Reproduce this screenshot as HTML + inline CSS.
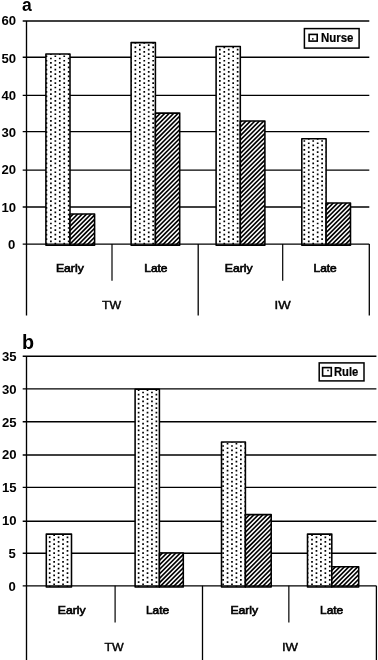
<!DOCTYPE html>
<html lang="en">
<head>
<meta charset="utf-8">
<title>Figure</title>
<style>
html,body{margin:0;padding:0;background:#fff;}
body{width:378px;height:660px;overflow:hidden;font-family:"Liberation Sans", sans-serif;}
svg{display:block;font-family:"Liberation Sans", sans-serif;}
text{fill:#000;}
</style>
</head>
<body>
<svg width="378" height="660" viewBox="0 0 378 660">
<rect width="378" height="660" fill="#fff"/>
<line x1="22.7" y1="21.0" x2="369.3" y2="21.0" stroke="#000" stroke-width="1.35"/>
<line x1="22.7" y1="57.2" x2="369.3" y2="57.2" stroke="#000" stroke-width="1.35"/>
<line x1="22.7" y1="95.3" x2="369.3" y2="95.3" stroke="#000" stroke-width="1.35"/>
<line x1="22.7" y1="131.6" x2="369.3" y2="131.6" stroke="#000" stroke-width="1.35"/>
<line x1="22.7" y1="170.1" x2="369.3" y2="170.1" stroke="#000" stroke-width="1.35"/>
<line x1="22.7" y1="207.0" x2="369.3" y2="207.0" stroke="#000" stroke-width="1.35"/>
<text x="16.0" y="25.45" text-anchor="end" font-weight="bold" font-size="12" textLength="14.6" lengthAdjust="spacingAndGlyphs">60</text>
<text x="16.0" y="62.70" text-anchor="end" font-weight="bold" font-size="12" textLength="14.6" lengthAdjust="spacingAndGlyphs">50</text>
<text x="16.0" y="99.95" text-anchor="end" font-weight="bold" font-size="12" textLength="14.6" lengthAdjust="spacingAndGlyphs">40</text>
<text x="16.0" y="137.20" text-anchor="end" font-weight="bold" font-size="12" textLength="14.6" lengthAdjust="spacingAndGlyphs">30</text>
<text x="16.0" y="174.45" text-anchor="end" font-weight="bold" font-size="12" textLength="14.6" lengthAdjust="spacingAndGlyphs">20</text>
<text x="16.0" y="211.70" text-anchor="end" font-weight="bold" font-size="12" textLength="14.6" lengthAdjust="spacingAndGlyphs">10</text>
<text x="15.4" y="248.95" text-anchor="end" font-weight="bold" font-size="12" textLength="7.3" lengthAdjust="spacingAndGlyphs">0</text>
<clipPath id="c1"><rect x="45.90" y="53.90" width="24.10" height="191.35"/></clipPath>
<rect x="45.90" y="53.90" width="24.10" height="191.35" fill="#fff"/>
<g clip-path="url(#c1)" stroke="#000" stroke-width="1.7" stroke-dasharray="1.7 2.76"><path d="M46.45,46.50V246.25"/><path d="M50.90,48.73V246.25"/><path d="M55.34,46.50V246.25"/><path d="M59.79,48.73V246.25"/><path d="M64.23,46.50V246.25"/><path d="M68.68,48.73V246.25"/></g>
<rect x="45.90" y="53.90" width="24.10" height="191.35" fill="none" stroke="#000" stroke-width="1.55" stroke-linejoin="round"/>
<clipPath id="c2"><rect x="70.00" y="213.90" width="24.60" height="31.35"/></clipPath>
<rect x="70.00" y="213.90" width="24.60" height="31.35" fill="#fff"/>
<path clip-path="url(#c2)" d="M69.00,209.43L95.60,182.74M69.00,213.89L95.60,187.20M69.00,218.35L95.60,191.66M69.00,222.81L95.60,196.12M69.00,227.27L95.60,200.58M69.00,231.73L95.60,205.04M69.00,236.19L95.60,209.50M69.00,240.65L95.60,213.96M69.00,245.11L95.60,218.42M69.00,249.57L95.60,222.88M69.00,254.03L95.60,227.34M69.00,258.49L95.60,231.80M69.00,262.95L95.60,236.26M69.00,267.41L95.60,240.72M69.00,271.87L95.60,245.18M69.00,276.33L95.60,249.64" stroke="#000" stroke-width="1.62" fill="none"/>
<rect x="70.00" y="213.90" width="24.60" height="31.35" fill="none" stroke="#000" stroke-width="1.55" stroke-linejoin="round"/>
<clipPath id="c3"><rect x="131.10" y="42.60" width="24.30" height="202.65"/></clipPath>
<rect x="131.10" y="42.60" width="24.30" height="202.65" fill="#fff"/>
<g clip-path="url(#c3)" stroke="#000" stroke-width="1.7" stroke-dasharray="1.7 2.76"><path d="M130.92,35.35V246.25"/><path d="M135.37,37.58V246.25"/><path d="M139.82,35.35V246.25"/><path d="M144.26,37.58V246.25"/><path d="M148.71,35.35V246.25"/><path d="M153.15,37.58V246.25"/></g>
<rect x="131.10" y="42.60" width="24.30" height="202.65" fill="none" stroke="#000" stroke-width="1.55" stroke-linejoin="round"/>
<clipPath id="c4"><rect x="155.40" y="113.10" width="24.30" height="132.15"/></clipPath>
<rect x="155.40" y="113.10" width="24.30" height="132.15" fill="#fff"/>
<path clip-path="url(#c4)" d="M154.40,105.92L180.70,79.53M154.40,110.38L180.70,83.99M154.40,114.84L180.70,88.45M154.40,119.30L180.70,92.91M154.40,123.76L180.70,97.37M154.40,128.22L180.70,101.83M154.40,132.68L180.70,106.29M154.40,137.14L180.70,110.75M154.40,141.60L180.70,115.21M154.40,146.06L180.70,119.67M154.40,150.52L180.70,124.13M154.40,154.98L180.70,128.59M154.40,159.44L180.70,133.05M154.40,163.90L180.70,137.51M154.40,168.36L180.70,141.97M154.40,172.82L180.70,146.43M154.40,177.28L180.70,150.89M154.40,181.74L180.70,155.35M154.40,186.20L180.70,159.81M154.40,190.66L180.70,164.27M154.40,195.12L180.70,168.73M154.40,199.58L180.70,173.19M154.40,204.04L180.70,177.65M154.40,208.50L180.70,182.11M154.40,212.96L180.70,186.57M154.40,217.42L180.70,191.03M154.40,221.88L180.70,195.49M154.40,226.34L180.70,199.95M154.40,230.80L180.70,204.41M154.40,235.26L180.70,208.87M154.40,239.72L180.70,213.33M154.40,244.18L180.70,217.79M154.40,248.64L180.70,222.25M154.40,253.10L180.70,226.71M154.40,257.56L180.70,231.17M154.40,262.02L180.70,235.63M154.40,266.48L180.70,240.09M154.40,270.94L180.70,244.55M154.40,275.40L180.70,249.01" stroke="#000" stroke-width="1.62" fill="none"/>
<rect x="155.40" y="113.10" width="24.30" height="132.15" fill="none" stroke="#000" stroke-width="1.55" stroke-linejoin="round"/>
<clipPath id="c5"><rect x="216.10" y="46.50" width="24.20" height="198.75"/></clipPath>
<rect x="216.10" y="46.50" width="24.20" height="198.75" fill="#fff"/>
<g clip-path="url(#c5)" stroke="#000" stroke-width="1.7" stroke-dasharray="1.7 2.76"><path d="M215.40,42.04V246.25"/><path d="M219.84,39.81V246.25"/><path d="M224.29,42.04V246.25"/><path d="M228.74,39.81V246.25"/><path d="M233.18,42.04V246.25"/><path d="M237.63,39.81V246.25"/></g>
<rect x="216.10" y="46.50" width="24.20" height="198.75" fill="none" stroke="#000" stroke-width="1.55" stroke-linejoin="round"/>
<clipPath id="c6"><rect x="240.30" y="120.90" width="24.60" height="124.35"/></clipPath>
<rect x="240.30" y="120.90" width="24.60" height="124.35" fill="#fff"/>
<path clip-path="url(#c6)" d="M239.30,114.41L265.90,87.73M239.30,118.87L265.90,92.19M239.30,123.33L265.90,96.65M239.30,127.79L265.90,101.11M239.30,132.25L265.90,105.57M239.30,136.71L265.90,110.03M239.30,141.17L265.90,114.49M239.30,145.63L265.90,118.95M239.30,150.09L265.90,123.41M239.30,154.55L265.90,127.87M239.30,159.01L265.90,132.33M239.30,163.47L265.90,136.79M239.30,167.93L265.90,141.25M239.30,172.39L265.90,145.71M239.30,176.85L265.90,150.17M239.30,181.31L265.90,154.63M239.30,185.77L265.90,159.09M239.30,190.23L265.90,163.55M239.30,194.69L265.90,168.01M239.30,199.15L265.90,172.47M239.30,203.61L265.90,176.93M239.30,208.07L265.90,181.39M239.30,212.53L265.90,185.85M239.30,216.99L265.90,190.31M239.30,221.45L265.90,194.77M239.30,225.91L265.90,199.23M239.30,230.37L265.90,203.69M239.30,234.83L265.90,208.15M239.30,239.29L265.90,212.61M239.30,243.75L265.90,217.07M239.30,248.21L265.90,221.53M239.30,252.67L265.90,225.99M239.30,257.13L265.90,230.45M239.30,261.59L265.90,234.91M239.30,266.05L265.90,239.37M239.30,270.51L265.90,243.83M239.30,274.97L265.90,248.29M239.30,279.43L265.90,252.75" stroke="#000" stroke-width="1.62" fill="none"/>
<rect x="240.30" y="120.90" width="24.60" height="124.35" fill="none" stroke="#000" stroke-width="1.55" stroke-linejoin="round"/>
<clipPath id="c7"><rect x="301.80" y="138.70" width="24.30" height="106.55"/></clipPath>
<rect x="301.80" y="138.70" width="24.30" height="106.55" fill="#fff"/>
<g clip-path="url(#c7)" stroke="#000" stroke-width="1.7" stroke-dasharray="1.7 2.76"><path d="M304.32,131.24V246.25"/><path d="M308.76,133.47V246.25"/><path d="M313.21,131.24V246.25"/><path d="M317.66,133.47V246.25"/><path d="M322.10,131.24V246.25"/><path d="M326.55,133.47V246.25"/></g>
<rect x="301.80" y="138.70" width="24.30" height="106.55" fill="none" stroke="#000" stroke-width="1.55" stroke-linejoin="round"/>
<clipPath id="c8"><rect x="326.10" y="202.90" width="24.40" height="42.35"/></clipPath>
<rect x="326.10" y="202.90" width="24.40" height="42.35" fill="#fff"/>
<path clip-path="url(#c8)" d="M325.10,197.82L351.50,171.34M325.10,202.28L351.50,175.80M325.10,206.74L351.50,180.26M325.10,211.20L351.50,184.72M325.10,215.66L351.50,189.18M325.10,220.12L351.50,193.64M325.10,224.58L351.50,198.10M325.10,229.04L351.50,202.56M325.10,233.50L351.50,207.02M325.10,237.96L351.50,211.48M325.10,242.42L351.50,215.94M325.10,246.88L351.50,220.40M325.10,251.34L351.50,224.86M325.10,255.80L351.50,229.32M325.10,260.26L351.50,233.78M325.10,264.72L351.50,238.24M325.10,269.18L351.50,242.70M325.10,273.64L351.50,247.16M325.10,278.10L351.50,251.62" stroke="#000" stroke-width="1.62" fill="none"/>
<rect x="326.10" y="202.90" width="24.40" height="42.35" fill="none" stroke="#000" stroke-width="1.55" stroke-linejoin="round"/>
<line x1="22.7" y1="244.1" x2="369.3" y2="244.1" stroke="#000" stroke-width="1.35"/>
<line x1="26.5" y1="21.0" x2="26.5" y2="315.4" stroke="#000" stroke-width="1.35"/>
<line x1="112.00" y1="244.1" x2="112.00" y2="280.7" stroke="#000" stroke-width="1.2"/>
<line x1="198.20" y1="244.1" x2="198.20" y2="315.4" stroke="#000" stroke-width="1.3"/>
<line x1="282.70" y1="244.1" x2="282.70" y2="280.7" stroke="#000" stroke-width="1.2"/>
<line x1="369.30" y1="244.1" x2="369.30" y2="315.4" stroke="#000" stroke-width="1.3"/>
<text x="69.85" y="272.3" text-anchor="middle" font-size="11.3" textLength="27.8" lengthAdjust="spacingAndGlyphs" stroke="#000" stroke-width="0.65">Early</text>
<text x="155.85" y="272.3" text-anchor="middle" font-size="11.3" textLength="23.2" lengthAdjust="spacingAndGlyphs" stroke="#000" stroke-width="0.65">Late</text>
<text x="238.70" y="272.3" text-anchor="middle" font-size="11.3" textLength="27.8" lengthAdjust="spacingAndGlyphs" stroke="#000" stroke-width="0.65">Early</text>
<text x="325.10" y="272.3" text-anchor="middle" font-size="11.3" textLength="23.2" lengthAdjust="spacingAndGlyphs" stroke="#000" stroke-width="0.65">Late</text>
<text x="111.50" y="308.9" text-anchor="middle" font-size="11.3" textLength="19.2" lengthAdjust="spacingAndGlyphs" stroke="#000" stroke-width="0.4">TW</text>
<text x="282.60" y="308.9" text-anchor="middle" font-size="11.3" textLength="16.1" lengthAdjust="spacingAndGlyphs" stroke="#000" stroke-width="0.4">IW</text>
<rect x="304.4" y="28.6" width="54.70" height="19.50" fill="#fff" stroke="#000" stroke-width="1.5"/>
<rect x="309.1" y="34.4" width="8.10" height="6.70" fill="#fff" stroke="#000" stroke-width="1.6"/>
<rect x="312.05" y="38.15" width="1.5" height="1.5" fill="#000"/>
<text x="320.9" y="41.7" font-weight="bold" font-size="12" textLength="32.5" lengthAdjust="spacingAndGlyphs" stroke="#000" stroke-width="0.2">Nurse</text>
<text x="22.0" y="11.2" font-weight="bold" font-size="17.5">a</text>
<line x1="22.7" y1="356.2" x2="376.4" y2="356.2" stroke="#000" stroke-width="1.35"/>
<line x1="22.7" y1="388.8" x2="376.4" y2="388.8" stroke="#000" stroke-width="1.35"/>
<line x1="22.7" y1="421.7" x2="376.4" y2="421.7" stroke="#000" stroke-width="1.35"/>
<line x1="22.7" y1="455.0" x2="376.4" y2="455.0" stroke="#000" stroke-width="1.35"/>
<line x1="22.7" y1="487.3" x2="376.4" y2="487.3" stroke="#000" stroke-width="1.35"/>
<line x1="22.7" y1="521.2" x2="376.4" y2="521.2" stroke="#000" stroke-width="1.35"/>
<line x1="22.7" y1="553.2" x2="376.4" y2="553.2" stroke="#000" stroke-width="1.35"/>
<text x="16.5" y="361.00" text-anchor="end" font-weight="bold" font-size="12" textLength="14.6" lengthAdjust="spacingAndGlyphs">35</text>
<text x="16.5" y="393.81" text-anchor="end" font-weight="bold" font-size="12" textLength="14.6" lengthAdjust="spacingAndGlyphs">30</text>
<text x="16.5" y="426.62" text-anchor="end" font-weight="bold" font-size="12" textLength="14.6" lengthAdjust="spacingAndGlyphs">25</text>
<text x="16.5" y="459.43" text-anchor="end" font-weight="bold" font-size="12" textLength="14.6" lengthAdjust="spacingAndGlyphs">20</text>
<text x="16.5" y="492.24" text-anchor="end" font-weight="bold" font-size="12" textLength="14.6" lengthAdjust="spacingAndGlyphs">15</text>
<text x="16.5" y="525.05" text-anchor="end" font-weight="bold" font-size="12" textLength="14.6" lengthAdjust="spacingAndGlyphs">10</text>
<text x="15.9" y="557.86" text-anchor="end" font-weight="bold" font-size="12" textLength="7.3" lengthAdjust="spacingAndGlyphs">5</text>
<text x="15.9" y="590.67" text-anchor="end" font-weight="bold" font-size="12" textLength="7.3" lengthAdjust="spacingAndGlyphs">0</text>
<clipPath id="c9"><rect x="46.30" y="534.10" width="25.20" height="52.85"/></clipPath>
<rect x="46.30" y="534.10" width="25.20" height="52.85" fill="#fff"/>
<g clip-path="url(#c9)" stroke="#000" stroke-width="1.7" stroke-dasharray="1.7 2.76"><path d="M49.70,527.66V587.95"/><path d="M54.14,525.43V587.95"/><path d="M58.59,527.66V587.95"/><path d="M63.03,525.43V587.95"/><path d="M67.48,527.66V587.95"/><path d="M71.93,525.43V587.95"/></g>
<rect x="46.30" y="534.10" width="25.20" height="52.85" fill="none" stroke="#000" stroke-width="1.55" stroke-linejoin="round"/>
<clipPath id="c10"><rect x="135.10" y="389.30" width="24.30" height="197.65"/></clipPath>
<rect x="135.10" y="389.30" width="24.30" height="197.65" fill="#fff"/>
<g clip-path="url(#c10)" stroke="#000" stroke-width="1.7" stroke-dasharray="1.7 2.76"><path d="M134.17,382.71V587.95"/><path d="M138.62,380.48V587.95"/><path d="M143.06,382.71V587.95"/><path d="M147.51,380.48V587.95"/><path d="M151.95,382.71V587.95"/><path d="M156.40,380.48V587.95"/></g>
<rect x="135.10" y="389.30" width="24.30" height="197.65" fill="none" stroke="#000" stroke-width="1.55" stroke-linejoin="round"/>
<clipPath id="c11"><rect x="159.40" y="553.00" width="23.90" height="33.95"/></clipPath>
<rect x="159.40" y="553.00" width="23.90" height="33.95" fill="#fff"/>
<path clip-path="url(#c11)" d="M158.40,548.19L184.30,522.21M158.40,552.65L184.30,526.67M158.40,557.11L184.30,531.13M158.40,561.57L184.30,535.59M158.40,566.03L184.30,540.05M158.40,570.49L184.30,544.51M158.40,574.95L184.30,548.97M158.40,579.41L184.30,553.43M158.40,583.87L184.30,557.89M158.40,588.33L184.30,562.35M158.40,592.79L184.30,566.81M158.40,597.25L184.30,571.27M158.40,601.71L184.30,575.73M158.40,606.17L184.30,580.19M158.40,610.63L184.30,584.65M158.40,615.09L184.30,589.11M158.40,619.55L184.30,593.57" stroke="#000" stroke-width="1.62" fill="none"/>
<rect x="159.40" y="553.00" width="23.90" height="33.95" fill="none" stroke="#000" stroke-width="1.55" stroke-linejoin="round"/>
<clipPath id="c12"><rect x="221.50" y="442.00" width="23.90" height="144.95"/></clipPath>
<rect x="221.50" y="442.00" width="23.90" height="144.95" fill="#fff"/>
<g clip-path="url(#c12)" stroke="#000" stroke-width="1.7" stroke-dasharray="1.7 2.76"><path d="M223.09,436.23V587.95"/><path d="M227.54,434.00V587.95"/><path d="M231.98,436.23V587.95"/><path d="M236.43,434.00V587.95"/><path d="M240.87,436.23V587.95"/><path d="M245.32,434.00V587.95"/></g>
<rect x="221.50" y="442.00" width="23.90" height="144.95" fill="none" stroke="#000" stroke-width="1.55" stroke-linejoin="round"/>
<clipPath id="c13"><rect x="245.40" y="514.60" width="25.80" height="72.35"/></clipPath>
<rect x="245.40" y="514.60" width="25.80" height="72.35" fill="#fff"/>
<path clip-path="url(#c13)" d="M244.40,510.98L272.20,483.10M244.40,515.44L272.20,487.56M244.40,519.90L272.20,492.02M244.40,524.36L272.20,496.48M244.40,528.82L272.20,500.94M244.40,533.28L272.20,505.40M244.40,537.74L272.20,509.86M244.40,542.20L272.20,514.32M244.40,546.66L272.20,518.78M244.40,551.12L272.20,523.24M244.40,555.58L272.20,527.70M244.40,560.04L272.20,532.16M244.40,564.50L272.20,536.62M244.40,568.96L272.20,541.08M244.40,573.42L272.20,545.54M244.40,577.88L272.20,550.00M244.40,582.34L272.20,554.46M244.40,586.80L272.20,558.92M244.40,591.26L272.20,563.38M244.40,595.72L272.20,567.84M244.40,600.18L272.20,572.30M244.40,604.64L272.20,576.76M244.40,609.10L272.20,581.22M244.40,613.56L272.20,585.68M244.40,618.02L272.20,590.14M244.40,622.48L272.20,594.60" stroke="#000" stroke-width="1.62" fill="none"/>
<rect x="245.40" y="514.60" width="25.80" height="72.35" fill="none" stroke="#000" stroke-width="1.55" stroke-linejoin="round"/>
<clipPath id="c14"><rect x="307.50" y="534.10" width="24.30" height="52.85"/></clipPath>
<rect x="307.50" y="534.10" width="24.30" height="52.85" fill="#fff"/>
<g clip-path="url(#c14)" stroke="#000" stroke-width="1.7" stroke-dasharray="1.7 2.76"><path d="M307.56,527.66V587.95"/><path d="M312.01,525.43V587.95"/><path d="M316.46,527.66V587.95"/><path d="M320.90,525.43V587.95"/><path d="M325.35,527.66V587.95"/><path d="M329.79,525.43V587.95"/></g>
<rect x="307.50" y="534.10" width="24.30" height="52.85" fill="none" stroke="#000" stroke-width="1.55" stroke-linejoin="round"/>
<clipPath id="c15"><rect x="331.80" y="566.80" width="26.90" height="20.15"/></clipPath>
<rect x="331.80" y="566.80" width="26.90" height="20.15" fill="#fff"/>
<path clip-path="url(#c15)" d="M330.80,562.57L359.70,533.58M330.80,567.03L359.70,538.04M330.80,571.49L359.70,542.50M330.80,575.95L359.70,546.96M330.80,580.41L359.70,551.42M330.80,584.87L359.70,555.88M330.80,589.33L359.70,560.34M330.80,593.79L359.70,564.80M330.80,598.25L359.70,569.26M330.80,602.71L359.70,573.72M330.80,607.17L359.70,578.18M330.80,611.63L359.70,582.64M330.80,616.09L359.70,587.10M330.80,620.55L359.70,591.56" stroke="#000" stroke-width="1.62" fill="none"/>
<rect x="331.80" y="566.80" width="26.90" height="20.15" fill="none" stroke="#000" stroke-width="1.55" stroke-linejoin="round"/>
<line x1="22.7" y1="585.8" x2="376.4" y2="585.8" stroke="#000" stroke-width="1.35"/>
<line x1="26.5" y1="356.2" x2="26.5" y2="660" stroke="#000" stroke-width="1.35"/>
<line x1="115.10" y1="585.8" x2="115.10" y2="622.6" stroke="#000" stroke-width="1.2"/>
<line x1="202.50" y1="585.8" x2="202.50" y2="660" stroke="#000" stroke-width="1.3"/>
<line x1="288.85" y1="585.8" x2="288.85" y2="622.6" stroke="#000" stroke-width="1.2"/>
<line x1="376.40" y1="585.8" x2="376.40" y2="660" stroke="#000" stroke-width="1.3"/>
<text x="71.70" y="613.8" text-anchor="middle" font-size="11.3" textLength="27.8" lengthAdjust="spacingAndGlyphs" stroke="#000" stroke-width="0.65">Early</text>
<text x="157.50" y="613.8" text-anchor="middle" font-size="11.3" textLength="23.2" lengthAdjust="spacingAndGlyphs" stroke="#000" stroke-width="0.65">Late</text>
<text x="244.30" y="613.8" text-anchor="middle" font-size="11.3" textLength="27.8" lengthAdjust="spacingAndGlyphs" stroke="#000" stroke-width="0.65">Early</text>
<text x="331.60" y="613.8" text-anchor="middle" font-size="11.3" textLength="23.2" lengthAdjust="spacingAndGlyphs" stroke="#000" stroke-width="0.65">Late</text>
<text x="114.10" y="650.6" text-anchor="middle" font-size="11.3" textLength="19.2" lengthAdjust="spacingAndGlyphs" stroke="#000" stroke-width="0.4">TW</text>
<text x="290.00" y="650.6" text-anchor="middle" font-size="11.3" textLength="16.1" lengthAdjust="spacingAndGlyphs" stroke="#000" stroke-width="0.4">IW</text>
<rect x="319.2" y="362.9" width="44.80" height="18.00" fill="#fff" stroke="#000" stroke-width="1.5"/>
<rect x="322.6" y="367.6" width="8.70" height="8.40" fill="#fff" stroke="#000" stroke-width="1.6"/>
<rect x="327.25" y="369.75" width="1.5" height="1.5" fill="#000"/>
<text x="334.0" y="375.8" font-weight="bold" font-size="12" textLength="24.3" lengthAdjust="spacingAndGlyphs" stroke="#000" stroke-width="0.2">Rule</text>
<text x="21.9" y="348.5" font-weight="bold" font-size="19.8">b</text>
</svg>
</body>
</html>
